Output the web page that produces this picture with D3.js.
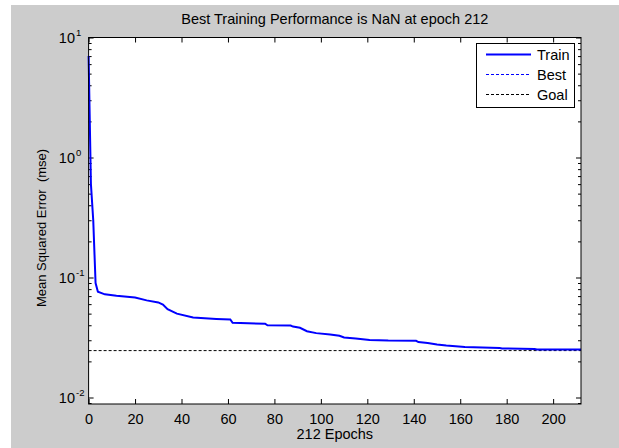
<!DOCTYPE html>
<html>
<head>
<meta charset="utf-8">
<script src="https://cdn.jsdelivr.net/npm/d3@7"></script>
<style>
  body { margin: 0; background: #fff; }
  svg { display: block; font-family: "Liberation Sans", Arial, sans-serif; }
</style>
</head>
<body>
<div id="chart"></div>
<script>
// training record
const epochs = [0, 1, 2, 3, 4, 7, 12, 20, 25, 30, 32, 34, 38, 45, 55, 61, 62, 76, 77, 87, 88, 91, 94, 98, 104, 108, 110, 115, 121, 129, 141, 142, 146, 150, 154, 162, 177, 178, 192, 193, 212];
const trainPerf = [7.0, 0.6, 0.3, 0.09, 0.076, 0.0724, 0.0705, 0.0682, 0.0645, 0.062, 0.0595, 0.0545, 0.050, 0.0465, 0.0452, 0.0447, 0.0419, 0.0412, 0.0400, 0.0398, 0.0390, 0.0381, 0.0357, 0.0344, 0.0335, 0.0327, 0.0316, 0.0310, 0.0302, 0.0298, 0.0297, 0.0290, 0.0285, 0.0276, 0.0271, 0.0264, 0.0258, 0.0256, 0.0254, 0.0251, 0.0251];
const goal = 0.0246;
const xTicks = [0, 20, 40, 60, 80, 100, 120, 140, 160, 180, 200];
const yTicks = [0.01, 0.1, 1, 10];
const yTickExp = ["-2", "-1", "0", "1"];
const legendItems = ["Train", "Best", "Goal"];

const W = 619, H = 448;
const m = {left: 88.6, right: 581, top: 37.5, bottom: 404};
const fs = "14.5px";

const svg = d3.select("#chart").append("svg")
    .attr("width", W).attr("height", H);

// figure background
svg.append("rect").attr("x", 11).attr("y", 5).attr("width", W - 11).attr("height", H - 5)
    .attr("fill", "#cccccc");

const x = d3.scaleLinear().domain([0, 212]).range([m.left, m.right]);
const y = d3.scaleLog().domain([0.00883, 10]).range([m.bottom, m.top]);

svg.append("rect")
    .attr("x", m.left).attr("y", m.top)
    .attr("width", m.right - m.left).attr("height", m.bottom - m.top)
    .attr("fill", "#fff");

// x ticks, bottom and top
svg.append("g").attr("transform", `translate(0,${m.bottom})`)
    .call(d3.axisBottom(x).tickValues(xTicks).tickSizeInner(-5).tickSizeOuter(0).tickPadding(10))
    .call(g => g.select(".domain").remove())
    .call(g => g.selectAll("text").style("font-size", fs).attr("fill", "#000"));
svg.append("g").attr("transform", `translate(0,${m.top})`)
    .call(d3.axisTop(x).tickValues(xTicks).tickSizeInner(-5).tickSizeOuter(0).tickFormat(""))
    .call(g => g.select(".domain").remove());

// y ticks, major + minor, left and right
const minor = y.ticks().filter(v => yTicks.indexOf(v) < 0 && v >= y.domain()[0]);
[[d3.axisLeft, m.left], [d3.axisRight, m.right]].forEach(([ax, px]) => {
    svg.append("g").attr("transform", `translate(${px},0)`)
        .call(ax(y).tickValues(yTicks).tickSizeInner(-5).tickSizeOuter(0).tickFormat(""))
        .call(g => g.select(".domain").remove());
    svg.append("g").attr("transform", `translate(${px},0)`)
        .call(ax(y).tickValues(minor).tickSizeInner(-3).tickSizeOuter(0).tickFormat(""))
        .call(g => g.select(".domain").remove());
});

// y tick labels 10^n
svg.append("g").selectAll("text").data(yTicks).join("text")
    .attr("x", 75).attr("y", d => y(d) + 5)
    .attr("text-anchor", "end")
    .style("font-size", fs)
    .text("10");
svg.append("g").selectAll("text").data(yTicks).join("text")
    .attr("x", 76).attr("y", d => y(d) - 2)
    .style("font-size", "9.5px")
    .text((d, i) => yTickExp[i]);

// goal line
svg.append("line")
    .attr("x1", x(0)).attr("x2", x(212))
    .attr("y1", y(goal)).attr("y2", y(goal))
    .attr("stroke", "#000").attr("stroke-dasharray", "3,2");

// train curve
const line = d3.line().x((d, i) => x(epochs[i])).y(d => y(d));
svg.append("path").datum(trainPerf)
    .attr("d", line)
    .attr("fill", "none").attr("stroke", "#0000ff").attr("stroke-width", 2);

// box
svg.append("rect")
    .attr("x", m.left).attr("y", m.top)
    .attr("width", m.right - m.left).attr("height", m.bottom - m.top)
    .attr("fill", "none").attr("stroke", "#000");

// legend
const lg = svg.append("g");
lg.append("rect").attr("x", 476.5).attr("y", 43.5).attr("width", 98).attr("height", 64)
    .attr("fill", "#fff").attr("stroke", "#000");
const lStyles = [
    {stroke: "#0000ff", dash: null, w: 2},
    {stroke: "#0000ff", dash: "3,2", w: 1},
    {stroke: "#000", dash: "3,2", w: 1}
];
legendItems.forEach((t, i) => {
    const yy = 54.5 + i * 20;
    lg.append("line").attr("x1", 486).attr("x2", 531).attr("y1", yy).attr("y2", yy)
        .attr("stroke", lStyles[i].stroke).attr("stroke-width", lStyles[i].w)
        .attr("stroke-dasharray", lStyles[i].dash);
    lg.append("text").attr("x", 537).attr("y", yy + 5)
        .style("font-size", fs).text(t);
});

// title and axis labels
svg.append("text").attr("x", (m.left + m.right) / 2).attr("y", 24)
    .attr("text-anchor", "middle").style("font-size", fs)
    .text("Best Training Performance is NaN at epoch 212");
svg.append("text").attr("x", (m.left + m.right) / 2).attr("y", 439)
    .attr("text-anchor", "middle").style("font-size", fs)
    .text("212 Epochs");
svg.append("text")
    .attr("transform", `translate(46,228) rotate(-90)`)
    .attr("text-anchor", "middle").style("font-size", "13px")
    .style("white-space", "pre")
    .text("Mean Squared Error  (mse)");
</script>
</body>
</html>
